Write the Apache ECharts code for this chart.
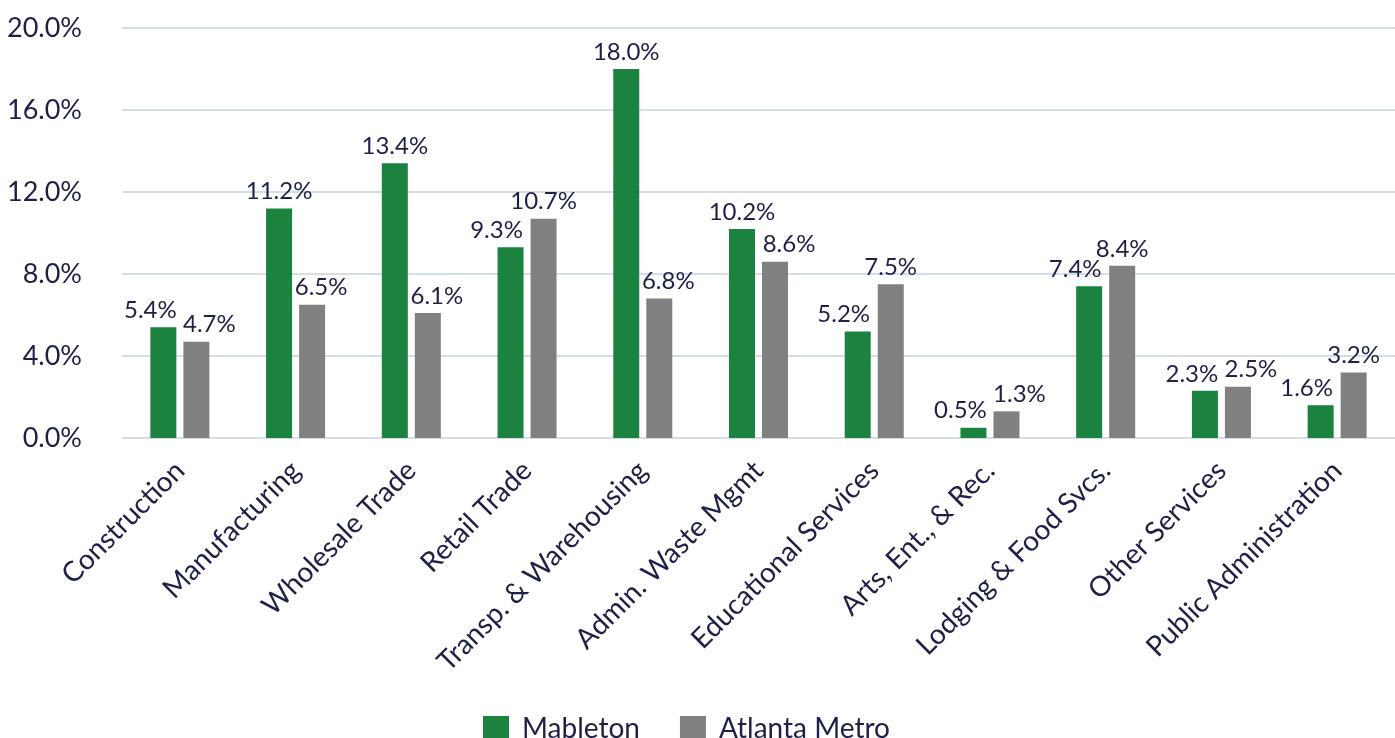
<!DOCTYPE html>
<html>
<head>
<meta charset="utf-8">
<script src="https://cdn.jsdelivr.net/npm/echarts@6/dist/echarts.min.js"></script>
<style>
  html, body { margin: 0; padding: 0; background: #fff; }
  #chart { width: 1395px; height: 738px; }
</style>
</head>
<body>
<div id="chart"></div>
<script>
  const categories = ['Construction', 'Manufacturing', 'Wholesale Trade', 'Retail Trade',
    'Transp. & Warehousing', 'Admin. Waste Mgmt', 'Educational Services',
    'Arts, Ent., & Rec.', 'Lodging & Food Svcs.', 'Other Services', 'Public Administration'];
  const mableton = [5.4, 11.2, 13.4, 9.3, 18.0, 10.2, 5.2, 0.5, 7.4, 2.3, 1.6];
  const atlantaMetro = [4.7, 6.5, 6.1, 10.7, 6.8, 8.6, 7.5, 1.3, 8.4, 2.5, 3.2];
  const yTicks = { min: 0, max: 20, interval: 4 };

  const textColor = '#1e2047';
  const font = 'Lato, "Open Sans", sans-serif';

  const chart = echarts.init(document.getElementById('chart'));

  // labels that would collide get pushed sideways, like in the original
  function labelShift(i, isGreen) {
    const a = mableton[i], b = atlantaMetro[i];
    const diff = Math.abs(a - b);
    if (diff < 1) return isGreen ? -13 : 13;
    if (diff < 2.5) {
      if (a < b) return isGreen ? -14 : 0;
      return isGreen ? 0 : 14;
    }
    return isGreen ? 0 : 9;
  }

  function makeLabel() {
    return {
      show: true,
      position: 'top',
      distance: 5,
      color: textColor,
      fontFamily: font,
      fontSize: 24,
      formatter: p => p.value.toFixed(1) + '%'
    };
  }

  function seriesData(values, isGreen) {
    return values.map((v, i) => ({
      value: v,
      label: { offset: [labelShift(i, isGreen), 0] }
    }));
  }

  chart.setOption({
    animation: false,
    textStyle: { fontFamily: font },
    grid: { left: 122, right: -5, top: 28, bottom: 300 },
    legend: {
      top: 710,
      left: 478,
      itemWidth: 26,
      itemHeight: 26,
      itemGap: 40,
      icon: 'rect',
      textStyle: { color: textColor, fontSize: 28, fontFamily: font, padding: [0, 0, 0, 8] },
      data: ['Mableton', 'Atlanta Metro']
    },
    xAxis: {
      type: 'category',
      data: categories,
      axisLine: { show: false },
      axisTick: { show: false },
      axisLabel: {
        interval: 0,
        rotate: 45,
        margin: 28,
        color: textColor,
        fontSize: 28,
        fontFamily: font
      }
    },
    yAxis: {
      type: 'value',
      min: yTicks.min,
      max: yTicks.max,
      interval: yTicks.interval,
      axisLine: { show: false },
      axisTick: { show: false },
      axisLabel: {
        margin: 40,
        color: textColor,
        fontSize: 27,
        fontFamily: font,
        formatter: v => v.toFixed(1) + '%'
      },
      splitLine: { lineStyle: { color: '#d5dee7', width: 2 } }
    },
    series: [
      {
        name: 'Mableton',
        type: 'bar',
        data: seriesData(mableton, true),
        barWidth: 26,
        barGap: '27%',
        itemStyle: { color: '#1c8240' },
        label: makeLabel()
      },
      {
        name: 'Atlanta Metro',
        type: 'bar',
        data: seriesData(atlantaMetro, false),
        barWidth: 26,
        itemStyle: { color: '#808080' },
        label: makeLabel()
      }
    ]
  });
</script>
</body>
</html>
